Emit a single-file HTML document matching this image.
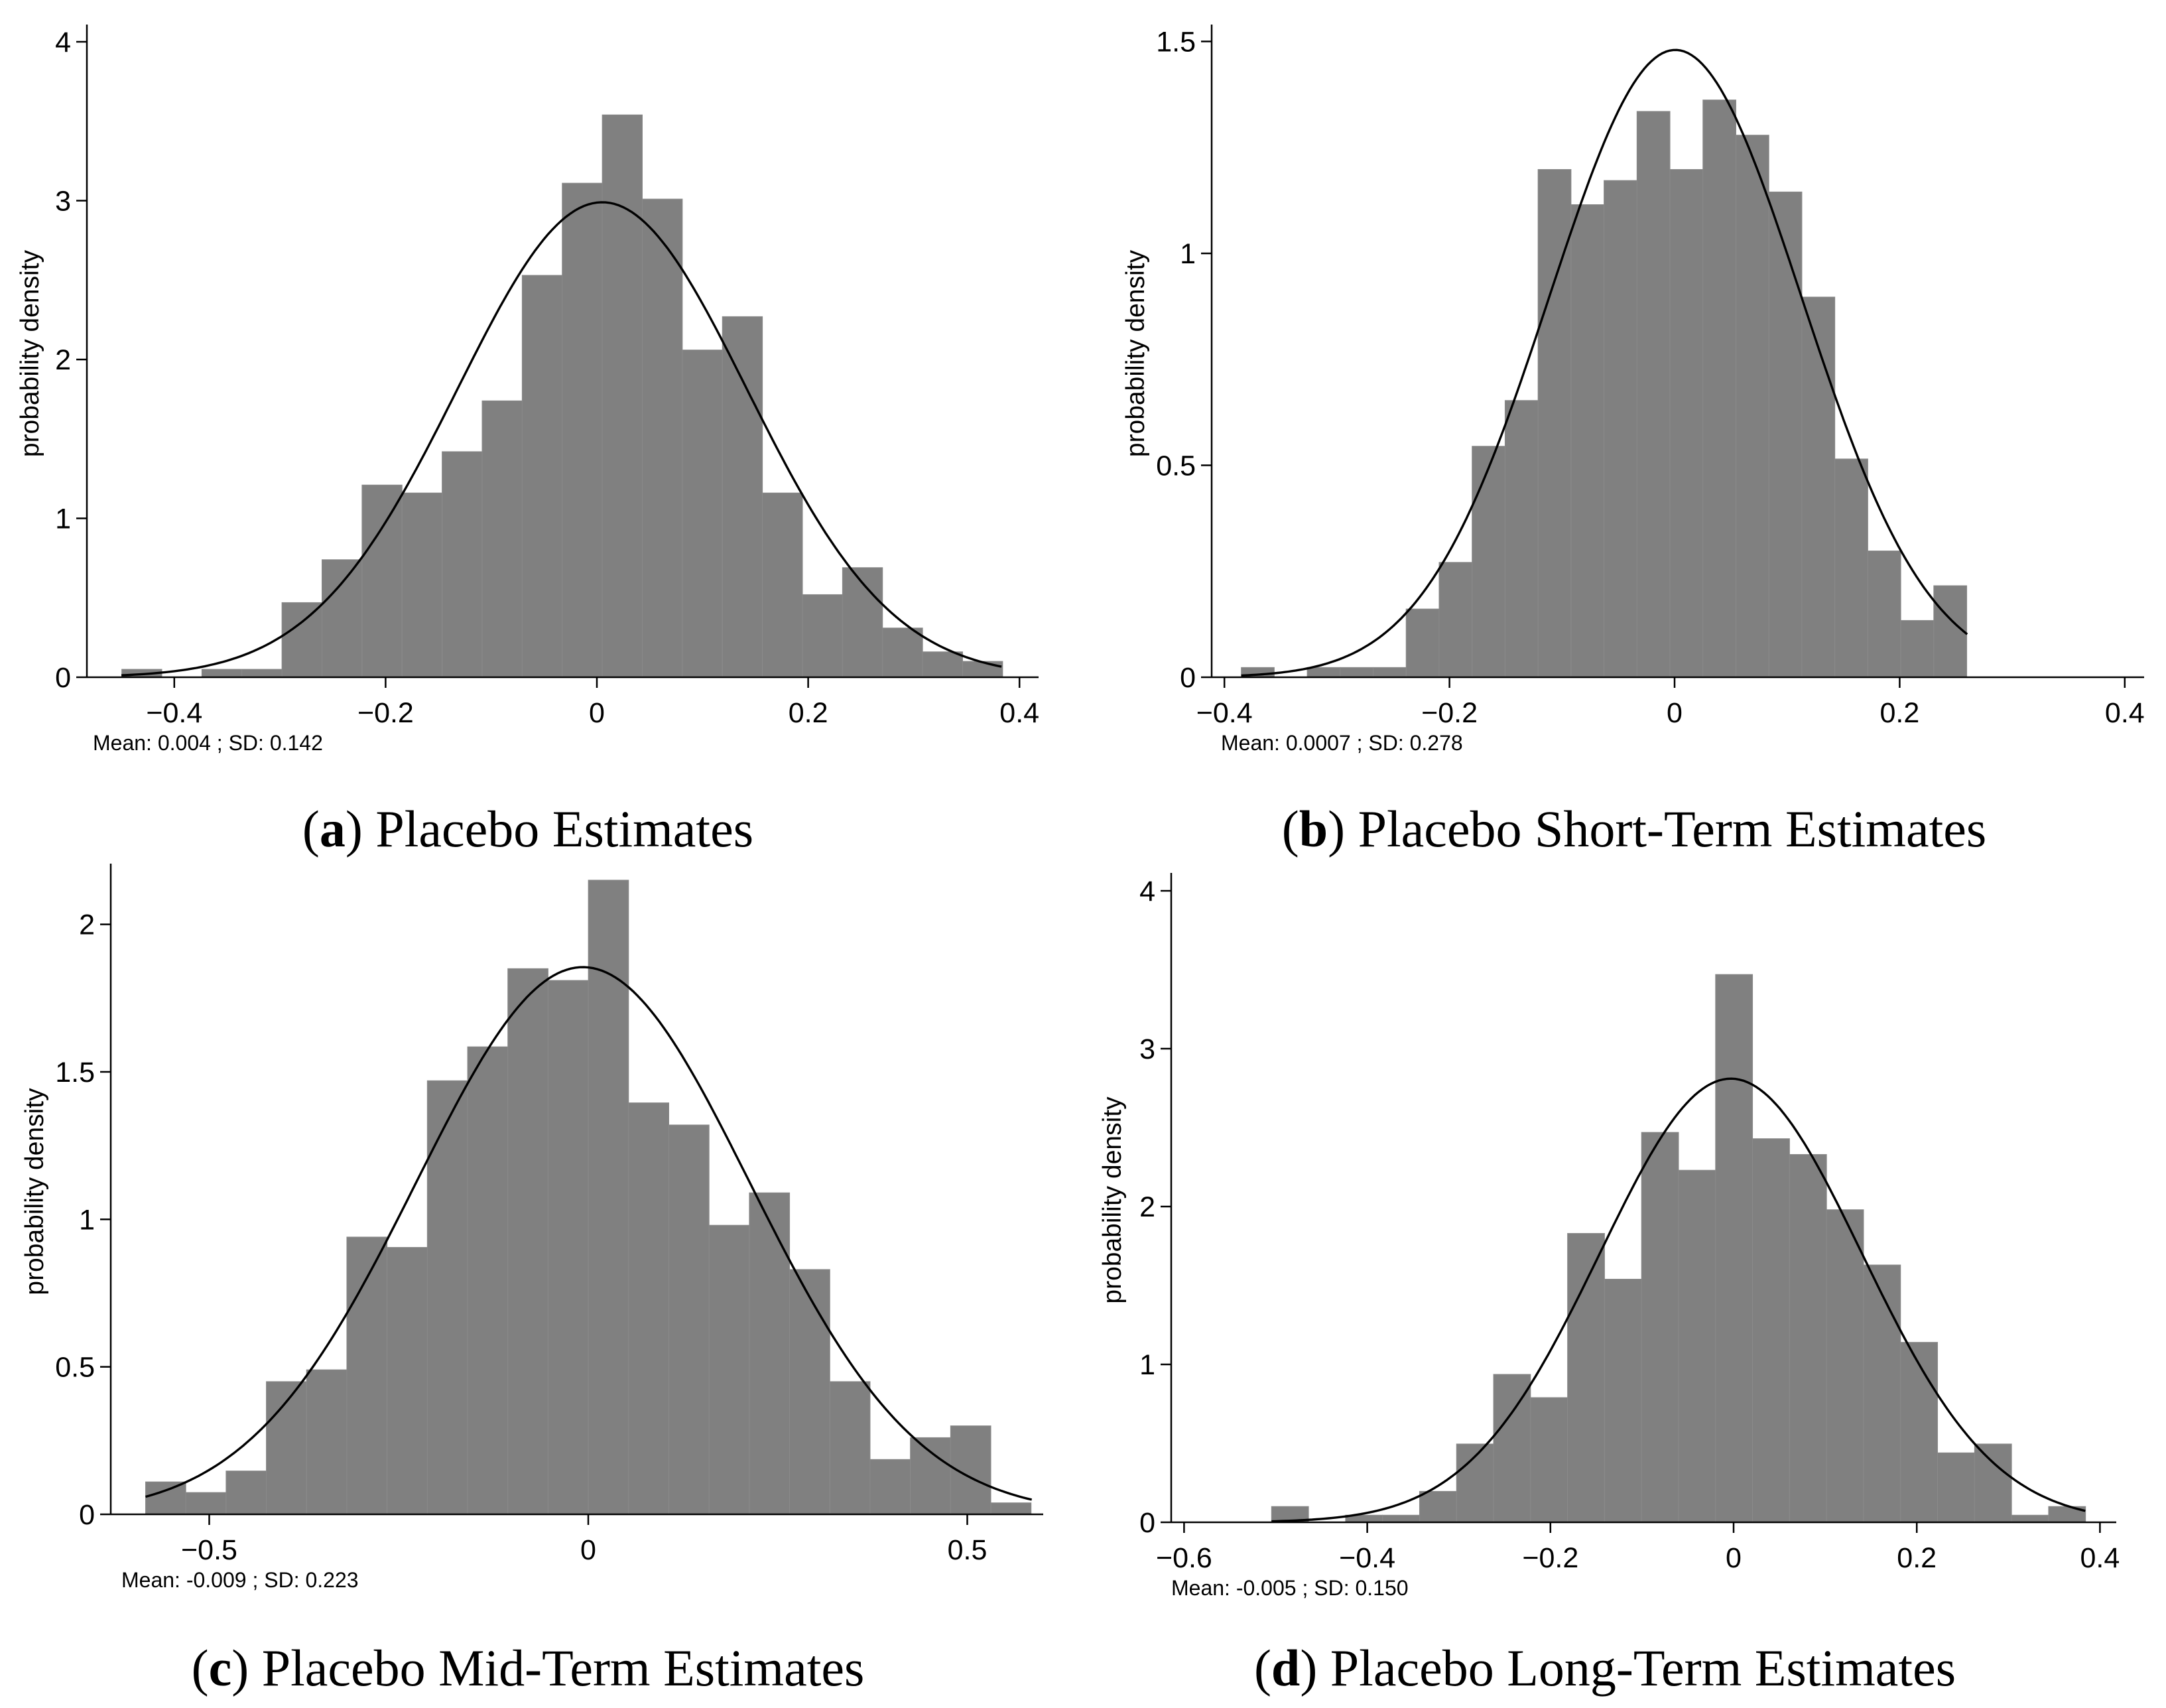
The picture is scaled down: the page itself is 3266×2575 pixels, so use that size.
<!DOCTYPE html>
<html><head><meta charset="utf-8">
<style>
html,body{margin:0;padding:0;background:#fff;}
svg{display:block;}
.tick{font-family:"Liberation Sans Narrow","Liberation Sans",sans-serif;font-size:43px;fill:#000;}
.ytitle{font-family:"Liberation Sans",sans-serif;font-size:39px;fill:#000;}
.note{font-family:"Liberation Sans",sans-serif;font-size:32px;fill:#000;}
.cap{font-family:"Liberation Serif",serif;font-size:78px;fill:#000;}
</style></head>
<body>
<svg id="fig" width="3266" height="2575" viewBox="0 0 3266 2575" xmlns="http://www.w3.org/2000/svg"></svg>
<script>
// Panel (a) Placebo Estimates
const aBinStart = -0.4497, aBinWidth = 0.0379;
const aDensity = [0.05,0,0.05,0.05,0.47,0.74,1.21,1.16,1.42,1.74,2.53,3.11,3.54,3.01,2.06,2.27,1.16,0.52,0.69,0.31,0.16,0.10];
const aCurve = {mean:0.005, sd:0.137, peak:2.99, from:-0.45, to:0.383};
const aXTicks = [-0.4,-0.2,0,0.2,0.4];
const aXLabels = ["\u22120.4","\u22120.2","0","0.2","0.4"];
const aYTicks = [0,1,2,3,4];
const aYLabels = ["0","1","2","3","4"];

// Panel (b) Placebo Short-Term Estimates
const bBinStart = -0.385, bBinWidth = 0.0293;
const bDensity = [0.023,0,0.023,0.023,0.023,0.161,0.271,0.545,0.653,1.198,1.115,1.172,1.335,1.198,1.362,1.279,1.145,0.897,0.515,0.298,0.134,0.216];
const bCurve = {mean:0.0007, sd:0.112, peak:1.48, from:-0.385, to:0.26};
const bXTicks = [-0.4,-0.2,0,0.2,0.4];
const bXLabels = ["\u22120.4","\u22120.2","0","0.2","0.4"];
const bYTicks = [0,0.5,1,1.5];
const bYLabels = ["0","0.5","1","1.5"];

// Panel (c) Placebo Mid-Term Estimates
const cBinStart = -0.584, cBinWidth = 0.0531;
const cDensity = [0.11,0.074,0.147,0.45,0.49,0.94,0.905,1.47,1.585,1.85,1.81,2.15,1.395,1.32,0.98,1.09,0.83,0.45,0.186,0.26,0.30,0.039];
const cCurve = {mean:-0.007, sd:0.22, peak:1.855, from:-0.584, to:0.585};
const cXTicks = [-0.5,0,0.5];
const cXLabels = ["\u22120.5","0","0.5"];
const cYTicks = [0,0.5,1,1.5,2];
const cYLabels = ["0","0.5","1","1.5","2"];

// Panel (d) Placebo Long-Term Estimates
const dBinStart = -0.5045, dBinWidth = 0.0404;
const dDensity = [0.10,0,0.045,0.045,0.196,0.496,0.937,0.79,1.83,1.54,2.47,2.23,3.47,2.43,2.33,1.98,1.63,1.14,0.44,0.496,0.045,0.10];
const dCurve = {mean:-0.003, sd:0.143, peak:2.81, from:-0.5045, to:0.384};
const dXTicks = [-0.6,-0.4,-0.2,0,0.2,0.4];
const dXLabels = ["\u22120.6","\u22120.4","\u22120.2","0","0.2","0.4"];
const dYTicks = [0,1,2,3,4];
const dYLabels = ["0","1","2","3","4"];

const NS = "http://www.w3.org/2000/svg";
const svg = document.getElementById("fig");
function mk(tag, attrs, parent){
  const e = document.createElementNS(NS, tag);
  for (const k in attrs) e.setAttribute(k, attrs[k]);
  (parent||svg).appendChild(e);
  return e;
}

function panel(id, L, binStart, binWidth, dens, curve, xt, xl, yt, yl, note, capLetter, capText){
  const g = mk("g", {});
  
  
  const X = v => L.x0 + v * L.xs;
  const Y = v => L.y0 - v * L.ys;
  const bars = mk("g", {}, g);
  
  
  dens.forEach((d, i) => {
    if (d <= 0) return;
    const xa = X(binStart + i * binWidth), xb = X(binStart + (i + 1) * binWidth);
    const r = mk("rect", {x: xa, y: Y(d), width: xb - xa, height: Y(0) - Y(d), fill: "#808080", stroke: "#8a8a8a", "stroke-width": 1}, bars);
    
    
  });
  let pts = [];
  const n = 200;
  for (let k = 0; k <= n; k++) {
    const v = curve.from + (curve.to - curve.from) * k / n;
    const z = (v - curve.mean) / curve.sd;
    pts.push(X(v).toFixed(1) + "," + Y(curve.peak * Math.exp(-0.5 * z * z)).toFixed(1));
  }
  const pl = mk("polyline", {points: pts.join(" "), fill: "none", stroke: "#000", "stroke-width": 3.4}, g);
  
  
  const ya = mk("line", {x1: L.ax, y1: L.top, x2: L.ax, y2: L.y0 + 1, stroke: "#000", "stroke-width": 2.5}, g);
  
  
  const xa = mk("line", {x1: L.ax, y1: L.y0, x2: L.xend, y2: L.y0, stroke: "#000", "stroke-width": 2.5}, g);
  
  
  yt.forEach((v, i) => {
    const t = mk("line", {x1: L.ax - 16, y1: Y(v), x2: L.ax, y2: Y(v), stroke: "#000", "stroke-width": 2.5}, g);
    
    
    const tx = mk("text", {x: L.ax - 24, y: Y(v) + 15, "text-anchor": "end", class: "tick"}, g);
    tx.textContent = yl[i];
    
    
  });
  xt.forEach((v, i) => {
    const t = mk("line", {x1: X(v), y1: L.y0, x2: X(v), y2: L.y0 + 16, stroke: "#000", "stroke-width": 2.5}, g);
    
    
    const tx = mk("text", {x: X(v), y: L.y0 + 68, "text-anchor": "middle", class: "tick"}, g);
    tx.textContent = xl[i];
    
    
  });
  const cyT = (L.top + L.y0) / 2 + 4;
  const yt2 = mk("text", {x: L.tx, y: cyT, "text-anchor": "middle", class: "ytitle", transform: "rotate(-90 " + L.tx + " " + cyT + ")"}, g);
  yt2.textContent = "probability density";
  
  
  const nt = mk("text", {x: L.nx, y: L.y0 + 110, class: "note"}, g);
  nt.textContent = note;
  
  
  const cp = mk("text", {x: L.cx, y: L.cy, "text-anchor": "middle", class: "cap"}, g);
  
  
  const t1 = mk("tspan", {}, cp); t1.textContent = "(";
  const t2 = mk("tspan", {"font-weight": "bold"}, cp); t2.textContent = capLetter;
  const t3 = mk("tspan", {}, cp); t3.textContent = ") " + capText;
}

panel("a", {x0: 900, xs: 1593, y0: 1021, ys: 239.5, ax: 131, top: 37, xend: 1566, tx: 58, nx: 140, cx: 796, cy: 1276},
  aBinStart, aBinWidth, aDensity, aCurve, aXTicks, aXLabels, aYTicks, aYLabels, "Mean: 0.004 ; SD: 0.142", "a", "Placebo Estimates");
panel("b", {x0: 2525, xs: 1697, y0: 1021, ys: 639, ax: 1827, top: 37, xend: 3233, tx: 1725, nx: 1841, cx: 2464, cy: 1276},
  bBinStart, bBinWidth, bDensity, bCurve, bXTicks, bXLabels, bYTicks, bYLabels, "Mean: 0.0007 ; SD: 0.278", "b", "Placebo Short-Term Estimates");
panel("c", {x0: 887, xs: 1143, y0: 2283, ys: 444.7, ax: 167, top: 1302, xend: 1573, tx: 65, nx: 183, cx: 796, cy: 2541},
  cBinStart, cBinWidth, cDensity, cCurve, cXTicks, cXLabels, cYTicks, cYLabels, "Mean: -0.009 ; SD: 0.223", "c", "Placebo Mid-Term Estimates");
panel("d", {x0: 2614, xs: 1381, y0: 2295, ys: 238, ax: 1766, top: 1316, xend: 3191, tx: 1690, nx: 1766, cx: 2420, cy: 2541},
  dBinStart, dBinWidth, dDensity, dCurve, dXTicks, dXLabels, dYTicks, dYLabels, "Mean: -0.005 ; SD: 0.150", "d", "Placebo Long-Term Estimates");
</script>
</body></html>
